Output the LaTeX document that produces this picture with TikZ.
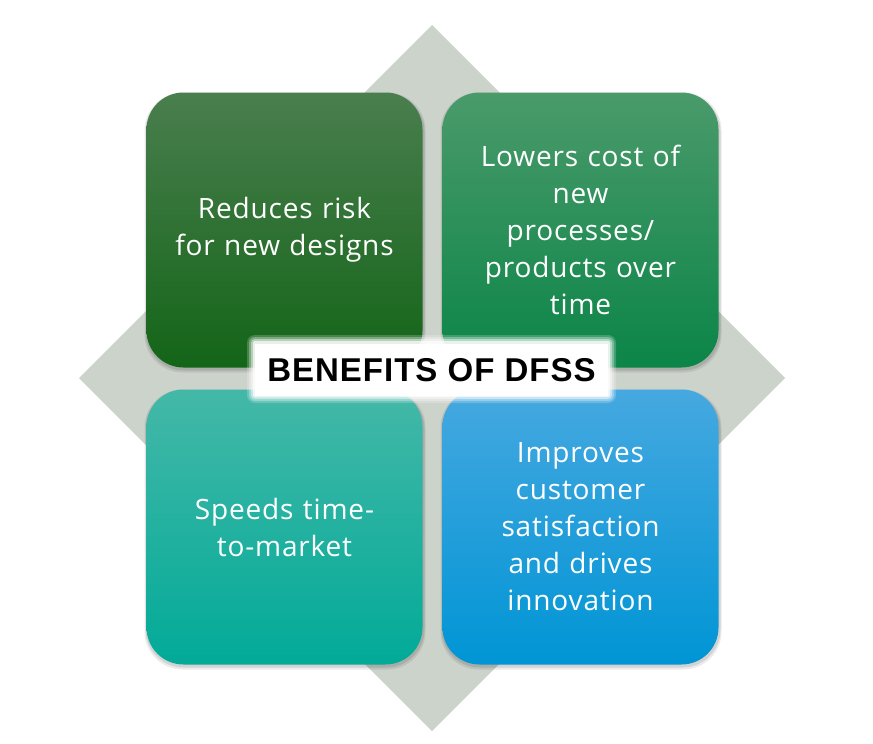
\documentclass[tikz,border=0pt]{standalone}
\usepackage{fontspec}
\setmainfont[LetterSpace=3]{Open Sans}
\newfontfamily\labelfont[LetterSpace=3]{Liberation Sans}
\usetikzlibrary{shapes.geometric,fadings}
\definecolor{diam}{HTML}{CCD3CB}
\definecolor{tlA}{HTML}{4A7E4E}\definecolor{tlB}{HTML}{136518}
\definecolor{trA}{HTML}{4A9A6A}\definecolor{trB}{HTML}{0B8548}
\definecolor{blA}{HTML}{44B8A8}\definecolor{blB}{HTML}{02AA98}
\definecolor{brA}{HTML}{46A8E0}\definecolor{brB}{HTML}{0095D5}
\tikzset{
  card/.style={rounded corners=37pt, minimum width=276pt, minimum height=275pt,
    text width=260pt, align=center, text=white,
    font=\fontsize{28pt}{37pt}\selectfont, inner sep=0pt},
  cardshadow/.style={fill=black, opacity=0.10, rounded corners=38pt}
}
\begin{document}
\begin{tikzpicture}[x=1pt,y=-1pt]
\useasboundingbox (0,0) rectangle (873,744);
\fill[white] (0,0) rectangle (873,744);
% diamond
\fill[diam] (432,25) -- (785,378) -- (432,731) -- (79,378) -- cycle;
% shadows
\foreach \cx/\cy in {284.5/230, 580.5/230, 284.5/527, 580.5/527}{
  \fill[cardshadow] (\cx-138-1,\cy-137.5+1) rectangle (\cx+138+2,\cy+137.5+3);
  \fill[cardshadow,opacity=0.08] (\cx-138-2,\cy-137.5) rectangle (\cx+138+3,\cy+137.5+5);
}
% cards
\node[card, top color=tlA, bottom color=tlB] (tl) at (284.5,230) {Reduces risk\\for new designs};
\node[card, top color=trA, bottom color=trB] (tr) at (580.5,230) {Lowers cost of\\new\\processes/\\products over\\time};
\node[card, top color=blA, bottom color=blB] (bl) at (284.5,527) {Speeds time-\\to-market};
\node[card, top color=brA, bottom color=brB] (br) at (580.5,527) {Improves\\customer\\satisfaction\\and drives\\innovation};
% label glow
\foreach \d/\o in {8/0.2,6/0.3,4/0.45,2/0.7}{
  \fill[white, opacity=\o, rounded corners=\d pt] (255-\d,343-\d) rectangle (608+\d,395+\d);
}
\node[fill=white, minimum width=353pt, minimum height=52pt, inner sep=0pt,
  font=\labelfont\bfseries\fontsize{33pt}{36pt}\selectfont] (lbl) at (431.5,370) {BENEFITS OF DFSS};
\end{tikzpicture}
\end{document}
